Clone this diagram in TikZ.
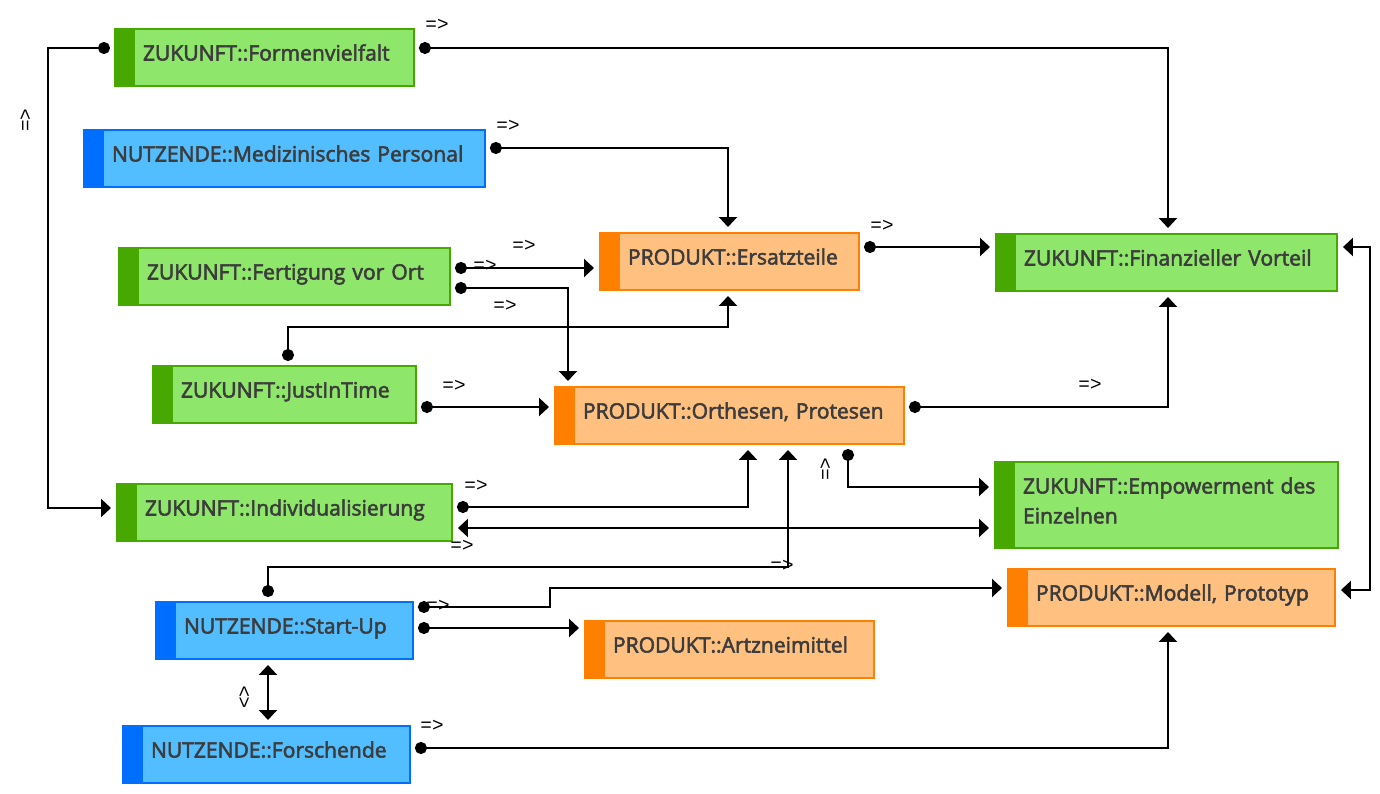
\documentclass[tikz,border=0pt]{standalone}
\usepackage{fontspec}
\setmainfont{Open Sans}[FakeBold=2.5]
\newfontfamily\relfont{Liberation Mono}
\usetikzlibrary{arrows.meta,calc}

\definecolor{zfill}{HTML}{8EE66A}
\definecolor{zline}{HTML}{46A800}
\definecolor{nfill}{HTML}{52BDFF}
\definecolor{nline}{HTML}{006EFF}
\definecolor{pfill}{HTML}{FFC080}
\definecolor{pline}{HTML}{FF8000}
\definecolor{boxtext}{HTML}{3C3C3C}

\newcommand{\stripgap}{\hspace*{0.4cm}}

\tikzset{
  box/.style={rectangle, anchor=north west, draw=#1line, fill=#1fill,
    line width=0.04cm, inner xsep=0.16cm, inner ysep=0pt,
    text=boxtext, font=\fontsize{12}{17}\selectfont, align=left,
    text height=0.63cm, text depth=0.51cm,
    path picture={\fill[#1line] (path picture bounding box.north west)
      rectangle ([xshift=0.4cm]path picture bounding box.south west);}},
  zbox/.style={box=z},
  nbox/.style={box=n},
  pbox/.style={box=p},
  conn/.style={line width=0.045cm,
    {Circle[length=0.24cm]}-{Triangle[width=0.36cm,length=0.2cm]},
    shorten <=0.08cm, shorten >=0.1cm},
  twoway/.style={line width=0.045cm,
    {Triangle[width=0.36cm,length=0.2cm]}-{Triangle[width=0.36cm,length=0.2cm]},
    shorten <=0.1cm, shorten >=0.1cm},
  rel/.style={font=\relfont\fontsize{11}{11}\selectfont, inner sep=0pt},
}

\begin{document}
\begin{tikzpicture}[x=0.02cm, y=-0.02cm]
  \useasboundingbox (0,0) rectangle (1380,794);

  \node[zbox, text width=5.66cm] (form) at (114,28) {\stripgap ZUKUNFT::Formenvielfalt};
  \node[nbox, text width=7.70cm] (mp) at (83,129) {\stripgap NUTZENDE::Medizinisches Personal};
  \node[zbox, text width=6.30cm] (fvo) at (118,247) {\stripgap ZUKUNFT::Fertigung vor Ort};
  \node[zbox, text width=4.94cm] (jit) at (152,365) {\stripgap ZUKUNFT::JustInTime};
  \node[zbox, text width=6.38cm] (ind) at (116,483) {\stripgap ZUKUNFT::Individualisierung};
  \node[nbox, text width=4.82cm] (sup) at (155,601) {\stripgap NUTZENDE::Start-Up};
  \node[nbox, text width=5.42cm] (fors) at (122,725) {\stripgap NUTZENDE::Forschende};
  \node[pbox, text width=4.86cm] (ers) at (599,232) {\stripgap PRODUKT::Ersatzteile};
  \node[pbox, text width=6.66cm] (orth) at (554,386) {\stripgap PRODUKT::Orthesen, Protesen};
  \node[pbox, text width=5.46cm] (arz) at (584,620) {\stripgap PRODUKT::Artzneimittel};
  \node[zbox, text width=6.50cm] (fin) at (995,233) {\stripgap ZUKUNFT::Finanzieller Vorteil};
  \node[zbox, text width=6.54cm, text depth=1.09cm] (emp) at (994,461)
    {\stripgap ZUKUNFT::Empowerment des\\\stripgap Einzelnen};
  \node[pbox, text width=6.22cm] (mod) at (1007,568) {\stripgap PRODUKT::Modell, Prototyp};

  \draw[conn]
    ($(form.north east)+(0,20)$) -|
    ($(fin.north west)+(173,0)$);
  \draw[conn]
    ($(form.north west)+(0,20)$) -|
    ($(ind.north west)+(-68,25)$) --
    ($(ind.north west)+(0,25)$);
  \draw[conn]
    ($(mp.north east)+(0,19)$) -|
    ($(ers.north west)+(129,0)$);
  \draw[conn]
    ($(fvo.north east)+(0,21)$) --
    ($(ers.north west)+(0,36)$);
  \draw[conn]
    ($(fvo.north east)+(0,41)$) -|
    ($(orth.north west)+(14,0)$);
  \draw[conn]
    ($(jit.north west)+(136,0)$) -- ++(0,-38) -|
    ($(ers.south west)+(129,0)$);
  \draw[conn]
    ($(jit.north east)+(0,42)$) --
    ($(orth.north west)+(0,21)$);
  \draw[conn]
    ($(ers.north east)+(0,15)$) --
    ($(fin.north west)+(0,14)$);
  \draw[conn]
    ($(orth.north east)+(0,21)$) -|
    ($(fin.south west)+(173,0)$);
  \draw[conn]
    ($(ind.north east)+(0,24)$) -|
    ($(orth.south west)+(194,0)$);
  \draw[twoway]
    ($(ind.north east)+(0,45)$) --
    ($(emp.north west)+(0,67)$);
  \draw[conn]
    ($(orth.south west)+(294,0)$) |-
    ($(emp.north west)+(0,26)$);
  \draw[conn]
    ($(sup.north west)+(113,0)$) -- ++(0,-34) -|
    ($(orth.south west)+(234,0)$);
  \draw[conn]
    ($(sup.north east)+(0,6)$) -- ++(136,0) |-
    ($(mod.north west)+(0,20)$);
  \draw[conn]
    ($(sup.north east)+(0,27)$) --
    ($(arz.north west)+(0,8)$);
  \draw[twoway]
    ($(sup.south west)+(113,0)$) --
    ($(fors.north west)+(146,0)$);
  \draw[conn]
    ($(fors.north east)+(0,23)$) -|
    ($(mod.south west)+(161,0)$);
  \draw[twoway]
    ($(fin.north east)+(0,14)$) -- ++(32,0) |-
    ($(mod.north east)+(0,22)$);

  \node[rel] (r1) at (437,25) {=>};
  \node[rel, rotate=90] (r2) at (26,120) {=>};
  \node[rel] (r3) at (508,126) {=>};
  \node[rel] (r4) at (524,246) {=>};
  \node[rel] (r5) at (485,266) {=>};
  \node[rel] (r6) at (505,306) {=>};
  \node[rel] (r7) at (454,386) {=>};
  \node[rel] (r8) at (882,226) {=>};
  \node[rel] (r9) at (1090,385) {=>};
  \node[rel] (r10) at (476,486) {=>};
  \node[rel] (r11) at (462,546) {=>};
  \node[rel, rotate=90] (r12) at (826,469) {=>};
  \node[rel] (r13) at (782,566) {=>};
  \node[rel] (r14) at (438,606) {=>};
  \node[rel, rotate=90] (r15) at (245,697) {<>};
  \node[rel] (r16) at (432,726) {=>};
\end{tikzpicture}
\end{document}
